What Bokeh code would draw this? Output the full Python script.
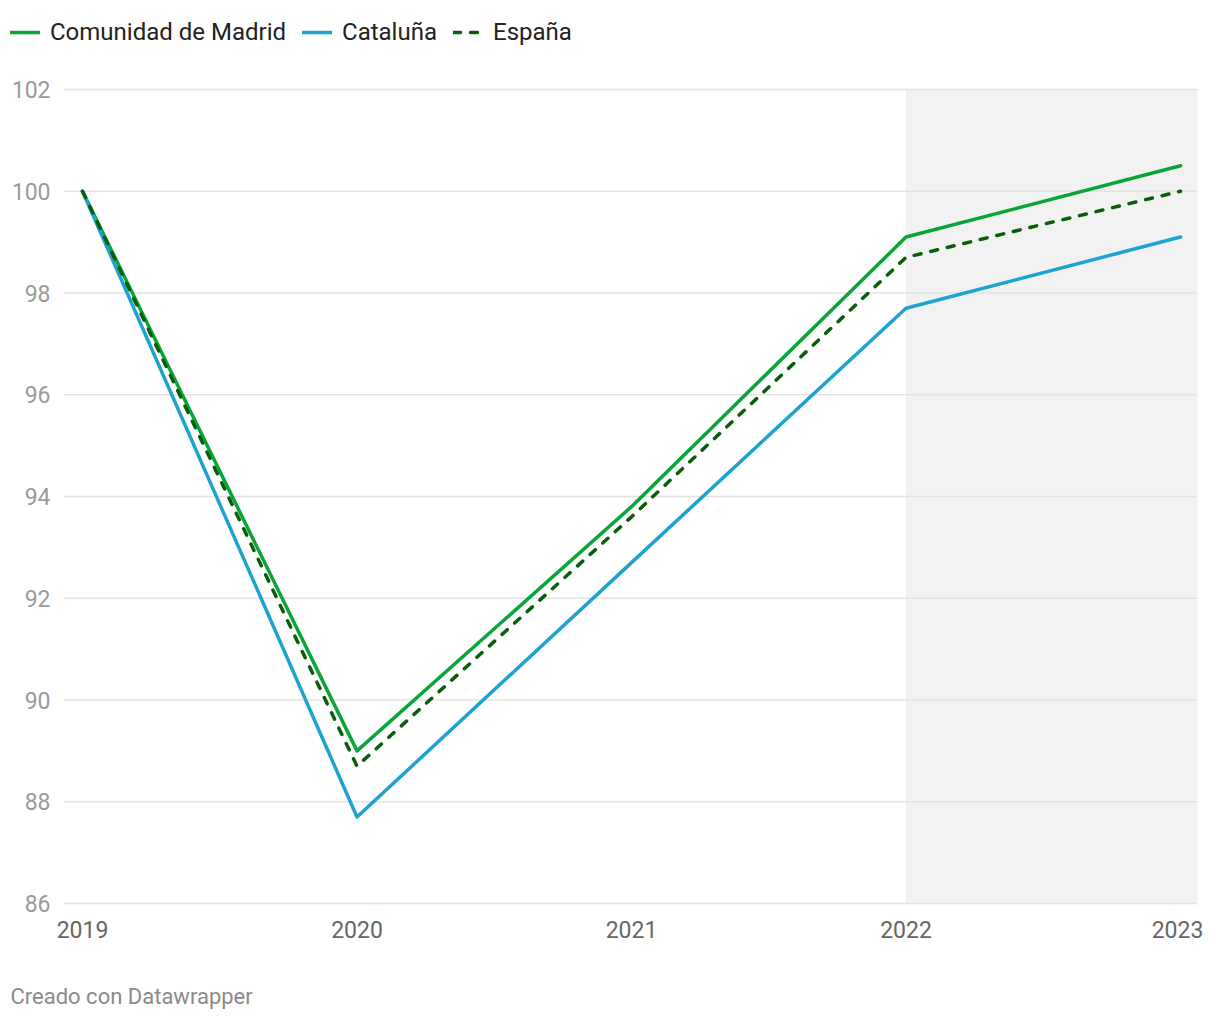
from bokeh.plotting import figure
from bokeh.models import (ColumnDataSource, Legend, LegendItem, Range1d)
from bokeh.core.properties import value
from bokeh.embed import file_html
from bokeh.resources import INLINE

years = [2019, 2020, 2021, 2022, 2023]
year_labels = ["2019", "2020", "2021", "2022", "2023"]
madrid = [100.0, 89.0, 93.8, 99.1, 100.5]
cataluna = [100.0, 87.7, 92.7, 97.7, 99.1]
espana = [100.0, 88.7, 93.6, 98.7, 100.0]
y_ticks = [86, 88, 90, 92, 94, 96, 98, 100, 102]
y_labels = ["86", "88", "90", "92", "94", "96", "98", "100", "102"]
shade_start = 2022

FONT = "Roboto"

# canvas geometry in pixels: the whole canvas is the plotting frame
W, H = 1204, 1012
PX_2019, PX_PER_YEAR = 82, 274.5     # x position of 2019, pixels per year
PY_86, PY_PER_UNIT = 903, 50.875     # y position of 86, pixels per index point
GRID_L, GRID_R = 63, 1197            # extent of the plot area / gridlines


def px_to_x(px):
    return years[0] + (px - PX_2019) / PX_PER_YEAR


def py_to_y(py):
    return y_ticks[0] + (PY_86 - py) / PY_PER_UNIT


p = figure(width=W, height=H, output_backend="svg", toolbar_location=None,
           x_range=Range1d(px_to_x(0), px_to_x(W)),
           y_range=Range1d(py_to_y(H), py_to_y(0)),
           x_axis_location=None, y_axis_location=None,
           min_border_left=0, min_border_right=0, min_border_top=0,
           min_border_bottom=0)
p.outline_line_color = None
p.background_fill_color = "white"
p.border_fill_color = "white"
p.grid.visible = False

# shaded forecast band
p.quad(left=[shade_start], right=[px_to_x(GRID_R)], bottom=[y_ticks[0]],
       top=[y_ticks[-1]], fill_color="#f2f2f2", line_color=None)

# horizontal gridlines
p.segment(x0=[px_to_x(GRID_L)] * len(y_ticks), x1=[px_to_x(GRID_R)] * len(y_ticks),
          y0=y_ticks, y1=y_ticks, line_color="#e3e3e3", line_width=1.5)

# y tick labels
p.text(x=[px_to_x(50)] * len(y_ticks), y=y_ticks, text=y_labels,
       text_align="right", text_baseline="middle", text_font=value(FONT),
       text_font_size="23px", text_color="#9a9a9a")

# x tick labels
p.text(x=years, y=[py_to_y(929)] * len(years), text=year_labels,
       x_offset=[0, 0, 0, 0, -3],
       text_align="center", text_baseline="middle", text_font=value(FONT),
       text_font_size="23px", text_color="#666666")

src = ColumnDataSource(dict(x=years, m=madrid, c=cataluna, e=espana))
r_m = p.line("x", "m", source=src, line_color="#0aa539", line_width=3.5,
             line_join="round", line_cap="round")
r_c = p.line("x", "c", source=src, line_color="#1ea3d0", line_width=3.5,
             line_join="round", line_cap="round")
r_e = p.line("x", "e", source=src, line_color="#0b5d0b", line_width=3.5,
             line_dash="7 10", line_cap="round")

LEG_H = 28
legend = Legend(items=[LegendItem(label="Comunidad de Madrid", renderers=[r_m]),
                       LegendItem(label="Cataluña", renderers=[r_c]),
                       LegendItem(label="España", renderers=[r_e])],
                orientation="horizontal", label_text_font=FONT,
                label_text_font_size="24px", label_text_color="#222222",
                glyph_width=30, glyph_height=LEG_H, label_height=LEG_H,
                label_standoff=10, spacing=16,
                padding=0, margin=0, border_line_color=None,
                background_fill_alpha=0,
                location=(10, H - 18 - LEG_H))
p.add_layout(legend, "center")

# footer
p.text(x=[px_to_x(10)], y=[py_to_y(996)], text=["Creado con Datawrapper"],
       text_align="left", text_baseline="middle", text_font=value(FONT),
       text_font_size="22px", text_color="#8a8a8a")

open("out.html", "w").write(file_html(p, INLINE))
